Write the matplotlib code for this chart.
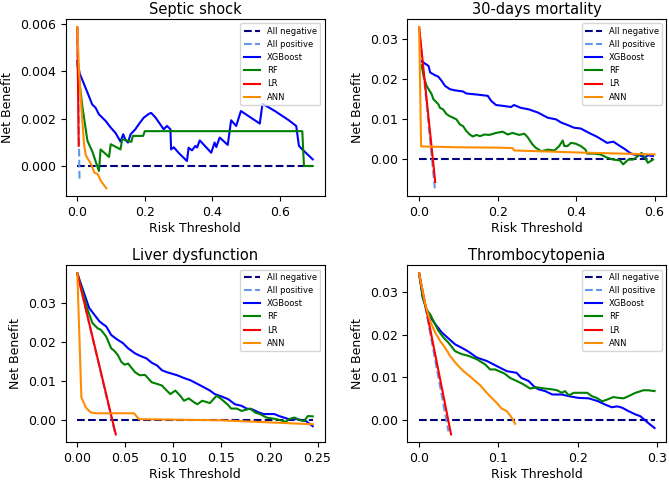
import matplotlib
matplotlib.use("Agg")
import matplotlib.pyplot as plt

# ---- Septic shock ----
septic_xgb_x = [0, 0.007, 0.020, 0.030, 0.044, 0.054, 0.064, 0.084, 0.099, 0.113, 0.128, 0.136, 0.143, 0.150,
                0.158, 0.172, 0.182, 0.197, 0.212, 0.219, 0.232, 0.256, 0.266, 0.276, 0.278, 0.286, 0.300,
                0.325, 0.330, 0.340, 0.350, 0.355, 0.363, 0.397, 0.407, 0.412, 0.422, 0.446, 0.456, 0.471,
                0.485, 0.541, 0.549, 0.588, 0.627, 0.649, 0.657, 0.667, 0.698]
septic_xgb_y = [4.44, 3.9, 3.45, 3.1, 2.6, 2.46, 2.18, 1.9, 1.62, 1.4, 1.03, 1.34, 1.1, 0.99, 1.34, 1.55, 1.76,
                2.04, 2.2, 2.24, 2.04, 1.55, 1.69, 1.55, 0.7, 0.79, 0.56, 0.21, 0.77, 0.66, 0.85, 0.78, 1.08,
                0.56, 0.99, 0.8, 1.2, 0.89, 1.93, 1.69, 2.32, 1.79, 2.63, 2.3, 1.93, 1.69, 0.85, 0.7, 0.28]
septic_rf_x = [0, 0.015, 0.030, 0.044, 0.064, 0.069, 0.094, 0.099, 0.128, 0.133, 0.160, 0.165, 0.195, 0.200,
               0.667, 0.672, 0.698]
septic_rf_y = [4.3, 2.5, 1.06, 0.63, -0.21, 0.7, 0.38, 0.92, 0.7, 1.13, 1.02, 1.27, 1.27, 1.47, 1.47, 0.0, 0.0]
septic_lr_x = [0, 0.004]
septic_lr_y = [5.85, 0.85]
septic_ann_x = [0, 0.005, 0.01, 0.015, 0.02, 0.025, 0.034, 0.04, 0.046, 0.05, 0.06, 0.07, 0.086]
septic_ann_y = [5.85, 4.0, 2.9, 1.9, 0.92, 0.45, 0.24, 0.1, -0.1, -0.28, -0.33, -0.63, -0.94]
septic_pos_x = [0, 0.0065]
septic_pos_y = [5.85, -0.58]
septic_neg_x = [0, 0.698]

# ---- 30-days mortality ----
mort_xgb_x = [0.006, 0.015, 0.024, 0.028, 0.04, 0.049, 0.057, 0.066, 0.078, 0.09, 0.112, 0.12, 0.15, 0.175,
              0.184, 0.196, 0.213, 0.234, 0.242, 0.259, 0.28, 0.303, 0.328, 0.349, 0.362, 0.378, 0.395,
              0.412, 0.433, 0.454, 0.479, 0.495, 0.512, 0.525, 0.537, 0.546, 0.562, 0.575, 0.583, 0.596]
mort_xgb_y = [24.5, 23.9, 23.3, 21.7, 21.0, 20.6, 19.6, 18.3, 17.5, 17.2, 16.9, 16.4, 16.1, 15.8, 14.5, 13.5,
              13.3, 13.0, 13.5, 12.8, 12.4, 11.6, 10.3, 9.9, 9.1, 8.5, 7.8, 7.6, 6.5, 5.5, 4.0, 4.3, 3.2,
              2.4, 1.5, 1.1, 0.9, 0.3, 0.9, 0.7]
mort_rf_x = [0.006, 0.012, 0.019, 0.024, 0.032, 0.036, 0.049, 0.053, 0.061, 0.07, 0.078, 0.087, 0.095, 0.104,
             0.112, 0.12, 0.129, 0.137, 0.146, 0.155, 0.167, 0.179, 0.196, 0.213, 0.226, 0.238, 0.255, 0.268,
             0.276, 0.289, 0.297, 0.311, 0.328, 0.345, 0.357, 0.366, 0.37, 0.378, 0.387, 0.399, 0.412,
             0.424, 0.428, 0.445, 0.462, 0.479, 0.495, 0.512, 0.52, 0.533, 0.545, 0.554, 0.567, 0.575,
             0.583, 0.596]
mort_rf_y = [23.5, 20.5, 18.3, 17.5, 16.2, 15.0, 13.7, 12.8, 12.4, 11.2, 10.7, 10.3, 9.9, 8.6, 8.2, 7.0, 6.1,
             5.6, 6.0, 5.7, 6.1, 6.0, 6.5, 6.8, 6.1, 6.5, 6.0, 6.3, 5.5, 3.6, 2.8, 1.9, 2.3, 2.1, 3.2, 4.6,
             3.2, 3.2, 4.0, 3.8, 3.2, 2.3, 1.3, 1.3, 1.1, 0.3, -0.2, -0.4, -1.4, -0.2, -0.2, 0.4, 1.5, 0.3,
             -1.0, -0.2]
mort_lr_x = [0, 0.041]
mort_lr_y = [33.0, -5.8]
mort_ann_x = [0, 0.005, 0.1, 0.2, 0.238, 0.242, 0.4, 0.6]
mort_ann_y = [33.0, 3.1, 2.9, 2.8, 2.7, 2.1, 1.6, 1.1]
mort_pos_x = [0, 0.040]
mort_pos_y = [33.0, -7.4]
mort_neg_x = [0, 0.596]

# ---- Liver dysfunction ----
liver_xgb_x = [0, 0.0123, 0.0176, 0.0229, 0.0264, 0.03, 0.0352, 0.0405, 0.0475, 0.0528, 0.06, 0.065, 0.072,
               0.0775, 0.083, 0.088, 0.093, 0.104, 0.111, 0.118, 0.125, 0.132, 0.138, 0.143, 0.15, 0.157,
               0.164, 0.171, 0.176, 0.182, 0.189, 0.194, 0.205, 0.21, 0.22, 0.229, 0.238, 0.245]
liver_xgb_y = [37.5, 28.7, 27.0, 25.3, 24.6, 24.0, 21.8, 20.8, 19.7, 18.4, 17.1, 16.5, 15.8, 14.7, 14.0, 12.8,
               12.3, 11.5, 10.8, 10.2, 9.3, 8.4, 7.6, 6.7, 6.1, 5.4, 4.1, 3.7, 3.0, 2.8, 2.0, 1.6, 1.6, 1.1,
               0.3, 0.3, -0.2, -1.5]
liver_rf_x = [0, 0.0106, 0.0158, 0.0211, 0.0246, 0.03, 0.0352, 0.0387, 0.0423, 0.0458, 0.0493, 0.0528, 0.06,
              0.065, 0.0704, 0.0775, 0.083, 0.088, 0.093, 0.0968, 0.102, 0.107, 0.111, 0.116, 0.1215, 0.125,
              0.13, 0.138, 0.145, 0.15, 0.157, 0.16, 0.166, 0.171, 0.18, 0.185, 0.19, 0.197, 0.205, 0.212,
              0.217, 0.22, 0.226, 0.231, 0.236, 0.24, 0.245]
liver_rf_y = [37.5, 28.3, 24.8, 23.5, 23.1, 21.4, 18.4, 17.7, 16.6, 14.9, 14.2, 14.5, 12.3, 11.5, 11.6, 9.7,
              9.3, 8.9, 7.6, 6.7, 7.6, 6.3, 5.0, 5.6, 4.6, 4.1, 5.0, 4.4, 6.3, 5.4, 3.9, 3.0, 3.0, 2.4, 3.0,
              2.0, 1.6, 0.7, 0.4, 0.0, -0.4, 0.3, 0.7, 0.1, -0.2, 1.1, 1.0]
liver_lr_x = [0, 0.040]
liver_lr_y = [37.5, -3.6]
liver_ann_x = [0, 0.0042, 0.0088, 0.014, 0.021, 0.059, 0.064, 0.15, 0.245]
liver_ann_y = [37.5, 5.9, 3.3, 2.0, 1.8, 1.8, 0.3, 0.0, -1.0]
liver_pos_x = [0, 0.039]
liver_pos_y = [37.5, -3.0]
liver_neg_x = [0, 0.245]

# ---- Thrombocytopenia ----
thr_xgb_x = [0, 0.0046, 0.0097, 0.016, 0.0223, 0.0286, 0.037, 0.0454, 0.0538, 0.0622, 0.0727, 0.0853, 0.0979,
             0.1105, 0.123, 0.129, 0.138, 0.146, 0.151, 0.159, 0.168, 0.18, 0.189, 0.201, 0.214, 0.226, 0.235,
             0.243, 0.25, 0.256, 0.264, 0.273, 0.279, 0.284, 0.289, 0.297]
thr_xgb_y = [34.4, 28.7, 25.6, 23.6, 22.0, 20.5, 19.1, 17.7, 16.9, 16.0, 14.6, 13.8, 12.6, 11.4, 11.0, 9.8,
             9.1, 7.6, 7.1, 6.7, 5.9, 5.9, 5.5, 5.1, 5.0, 4.3, 3.5, 2.9, 3.1, 2.8, 2.0, 1.2, 0.8, 0.0, -0.8,
             -2.0]
thr_rf_x = [0, 0.0046, 0.0097, 0.0139, 0.0202, 0.0244, 0.0307, 0.037, 0.0454, 0.0538, 0.0622, 0.0727, 0.0832,
            0.0895, 0.0958, 0.102, 0.108, 0.1147, 0.123, 0.1315, 0.14, 0.148, 0.159, 0.168, 0.174, 0.18,
            0.184, 0.189, 0.195, 0.205, 0.212, 0.218, 0.224, 0.231, 0.237, 0.245, 0.252, 0.258, 0.264, 0.273,
            0.283, 0.289, 0.297]
thr_rf_y = [34.4, 28.7, 25.8, 24.8, 22.4, 20.9, 19.3, 18.1, 16.1, 15.4, 15.0, 14.2, 13.0, 11.8, 11.8, 11.3,
            10.8, 9.8, 9.1, 8.3, 7.3, 7.6, 7.3, 7.1, 6.9, 6.3, 6.7, 5.7, 6.3, 6.3, 6.3, 5.5, 5.1, 4.3, 4.7,
            5.3, 5.1, 5.0, 5.5, 6.3, 6.9, 6.9, 6.7]
thr_lr_x = [0, 0.0403]
thr_lr_y = [34.4, -3.5]
thr_ann_x = [0, 0.0076, 0.0139, 0.0202, 0.0265, 0.0328, 0.039, 0.0475, 0.0559, 0.0664, 0.0769, 0.0853, 0.0916,
             0.098, 0.104, 0.1105, 0.117, 0.121]
thr_ann_y = [34.4, 27.2, 23.2, 20.5, 18.5, 16.9, 15.0, 13.0, 11.4, 9.8, 8.1, 6.3, 5.1, 3.9, 2.6, 2.0, 0.4, -1.0]
thr_pos_x = [0, 0.037]
thr_pos_y = [34.4, -2.8]
thr_neg_x = [0, 0.297]

titles = ["Septic shock", "30-days mortality", "Liver dysfunction", "Thrombocytopenia"]
# net benefit values above are in units of 1e-3
panels = [
    (septic_neg_x, septic_pos_x, septic_pos_y, septic_xgb_x, septic_xgb_y, septic_rf_x, septic_rf_y,
     septic_lr_x, septic_lr_y, septic_ann_x, septic_ann_y),
    (mort_neg_x, mort_pos_x, mort_pos_y, mort_xgb_x, mort_xgb_y, mort_rf_x, mort_rf_y,
     mort_lr_x, mort_lr_y, mort_ann_x, mort_ann_y),
    (liver_neg_x, liver_pos_x, liver_pos_y, liver_xgb_x, liver_xgb_y, liver_rf_x, liver_rf_y,
     liver_lr_x, liver_lr_y, liver_ann_x, liver_ann_y),
    (thr_neg_x, thr_pos_x, thr_pos_y, thr_xgb_x, thr_xgb_y, thr_rf_x, thr_rf_y,
     thr_lr_x, thr_lr_y, thr_ann_x, thr_ann_y),
]
xticks = [[0.0, 0.2, 0.4, 0.6], [0.0, 0.2, 0.4, 0.6], [0.0, 0.05, 0.1, 0.15, 0.2, 0.25], [0.0, 0.1, 0.2, 0.3]]
yticks = [[0.0, 0.002, 0.004, 0.006], [0.0, 0.01, 0.02, 0.03], [0.0, 0.01, 0.02, 0.03], [0.0, 0.01, 0.02, 0.03]]
xtick_labels = [["0.0", "0.2", "0.4", "0.6"], ["0.0", "0.2", "0.4", "0.6"],
                ["0.00", "0.05", "0.10", "0.15", "0.20", "0.25"], ["0.0", "0.1", "0.2", "0.3"]]
ytick_labels = [["0.000", "0.002", "0.004", "0.006"], ["0.00", "0.01", "0.02", "0.03"],
                ["0.00", "0.01", "0.02", "0.03"], ["0.00", "0.01", "0.02", "0.03"]]

fig, axes = plt.subplots(2, 2, figsize=(6.69, 4.82), dpi=100)
fig.subplots_adjust(left=0.098, right=0.996, bottom=0.082, top=0.960, wspace=0.32, hspace=0.39)

def s(v):
    return [a / 1000 for a in v]

for ax, title, p, xt, yt, xtl, ytl in zip(axes.flat, titles, panels, xticks, yticks, xtick_labels, ytick_labels):
    neg_x, pos_x, pos_y, xgb_x, xgb_y, rf_x, rf_y, lr_x, lr_y, ann_x, ann_y = p
    ax.plot(neg_x, [0, 0], color="navy", linestyle="--", label="All negative")
    ax.plot(pos_x, s(pos_y), color="cornflowerblue", linestyle="--", label="All positive")
    ax.plot(xgb_x, s(xgb_y), color="blue", label="XGBoost")
    ax.plot(rf_x, s(rf_y), color="green", label="RF")
    ax.plot(lr_x, s(lr_y), color="red", label="LR")
    ax.plot(ann_x, s(ann_y), color="darkorange", label="ANN")
    ax.set_title(title, fontsize=10.5, pad=4)
    ax.set_xlabel("Risk Threshold", fontsize=9, labelpad=2)
    ax.set_ylabel("Net Benefit", fontsize=9)
    ax.set_xticks(xt)
    ax.set_xticklabels(xtl)
    ax.set_yticks(yt)
    ax.set_yticklabels(ytl)
    ax.tick_params(labelsize=9)
    ax.legend(loc="upper right", fontsize=6)

fig.savefig("out.png", dpi=100)
